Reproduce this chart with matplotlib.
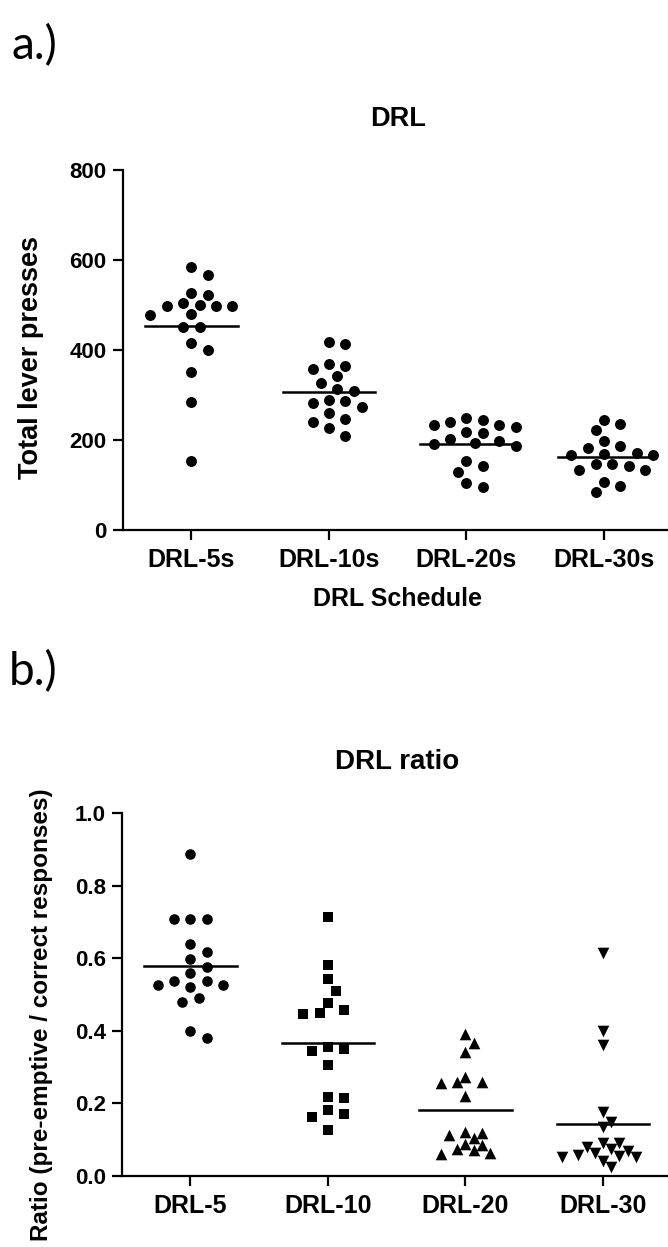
import numpy as np
import matplotlib
matplotlib.use("Agg")
import matplotlib.pyplot as plt

plt.rcParams['font.family'] = ['Liberation Sans', 'DejaVu Sans']
plt.rcParams['font.weight'] = 'bold'
plt.rcParams['axes.labelweight'] = 'bold'
plt.rcParams['axes.titleweight'] = 'bold'

# total lever presses per DRL schedule
schedules = ['DRL-5s', 'DRL-10s', 'DRL-20s', 'DRL-30s']
presses_5s = [584, 566, 522, 526, 500, 498, 498, 498, 504, 478, 479, 452, 452, 416, 400, 351, 285, 153]
presses_10s = [413, 417, 364, 357, 369, 327, 342, 310, 314, 289, 283, 287, 273, 261, 241, 246, 226, 210]
presses_20s = [239, 248, 233, 218, 244, 230, 216, 233, 202, 193, 187, 191, 198, 153, 143, 129, 95, 104]
presses_30s = [235, 244, 222, 198, 187, 182, 167, 170, 167, 172, 146, 133, 133, 142, 146, 106, 98, 85]

# ratio of pre-emptive to correct responses
ratio_groups = ['DRL-5', 'DRL-10', 'DRL-20', 'DRL-30']
ratio_5 = [0.887, 0.708, 0.708, 0.708, 0.639, 0.618, 0.598, 0.577, 0.559, 0.538,
           0.526, 0.520, 0.525, 0.538, 0.490, 0.479, 0.400, 0.379]
ratio_10 = [0.715, 0.582, 0.542, 0.510, 0.476, 0.457, 0.446, 0.448, 0.349, 0.356,
            0.343, 0.306, 0.214, 0.218, 0.171, 0.182, 0.163, 0.126]
ratio_20 = [0.391, 0.367, 0.341, 0.258, 0.273, 0.255, 0.260, 0.221, 0.122, 0.113,
            0.105, 0.119, 0.085, 0.087, 0.071, 0.060, 0.064, 0.073]
ratio_30 = [0.614, 0.400, 0.361, 0.175, 0.134, 0.149, 0.091, 0.080, 0.090, 0.073,
            0.062, 0.069, 0.057, 0.051, 0.055, 0.042, 0.053, 0.025]

W, H = 668, 1247


def swarm_x(ax, x0, values, min_px, step_px=8.2):
    # greedy beeswarm on a grid of horizontal steps, done in display pixels
    vals = np.asarray(values, dtype=float)
    pts = ax.transData.transform(np.column_stack([np.full(len(vals), x0), vals]))
    ys = pts[:, 1]
    xc = pts[0, 0]
    cands = [0] + [s * j for j in range(1, 40) for s in (1, -1)]
    placed = []
    xs = np.zeros(len(vals))
    for i in np.argsort(-vals):
        for k in cands:
            cx = xc + k * step_px
            if all((cx - px) ** 2 + (ys[i] - py) ** 2 >= min_px ** 2 for px, py in placed):
                break
        placed.append((cx, ys[i]))
        xs[i] = cx
    return ax.transData.inverted().transform(np.column_stack([xs, ys]))[:, 0]


def style_axes(ax):
    for side in ['top', 'right']:
        ax.spines[side].set_visible(False)
    for side in ['left', 'bottom']:
        ax.spines[side].set_linewidth(1.6)
    ax.tick_params(width=1.6, length=7.5, pad=4)
    ax.tick_params(axis='x', labelsize=18, pad=5.5)
    ax.tick_params(axis='y', labelsize=16)


def column_scatter(ax, groups, markers, sizes, gaps):
    for i, (vals, m, s, gap) in enumerate(zip(groups, markers, sizes, gaps)):
        xs = swarm_x(ax, i, vals, gap)
        ax.scatter(xs, vals, marker=m, s=s, c='black', linewidths=0, clip_on=False, zorder=3)
        mean = np.mean(vals)
        ax.plot([i - 0.335, i + 0.335], [mean, mean], color='black', lw=1.8, zorder=4)


fig = plt.figure(figsize=(W / 100, H / 100), dpi=100)

# panel a
ax1 = fig.add_axes([122.7 / W, 1 - 530 / H, 550 / W, 360 / H])
ax1.set_xlim(-0.5, 3.5)
ax1.set_ylim(0, 800)
style_axes(ax1)
ax1.set_xticks(range(4))
ax1.set_xticklabels(schedules)
ax1.set_yticks([0, 200, 400, 600, 800])
column_scatter(ax1, [presses_5s, presses_10s, presses_20s, presses_30s],
               ['o'] * 4, [62] * 4, [12.5] * 4)
ax1.set_title('DRL', fontsize=19.5, pad=32)
ax1.set_ylabel('Total lever presses', fontsize=19.5)
ax1.yaxis.set_label_coords((44 - 122.7) / 550, 0.478)
ax1.set_xlabel('DRL Schedule', fontsize=18, labelpad=11)

# panel b
ax2 = fig.add_axes([121.7 / W, 1 - 1175.8 / H, 550 / W, 362.5 / H])
ax2.set_xlim(-0.5, 3.5)
ax2.set_ylim(0, 1.0)
style_axes(ax2)
ax2.set_xticks(range(4))
ax2.set_xticklabels(ratio_groups)
ax2.set_yticks(np.arange(0, 1.01, 0.2))
ax2.set_yticklabels(['%.1f' % v for v in np.arange(0, 1.01, 0.2)])
column_scatter(ax2, [ratio_5, ratio_10, ratio_20, ratio_30],
               ['o', 's', '^', 'v'], [58, 56, 70, 70], [12.5, 12, 9.5, 9.5])
ax2.set_title('DRL ratio', fontsize=20, pad=32)
ax2.set_ylabel('Ratio (pre-emptive / correct responses)', fontsize=17.5)
ax2.yaxis.set_label_coords((53 - 121.7) / 550, 0.445)

fig.text(11 / W, 1 - 24 / H, 'a.)', fontfamily='Lato', fontweight='normal', fontsize=33, va='top')
fig.text(9 / W, 1 - 650 / H, 'b.)', fontfamily='Lato', fontweight='normal', fontsize=33, va='top')

fig.savefig('out.png', dpi=100)
plt.close(fig)
